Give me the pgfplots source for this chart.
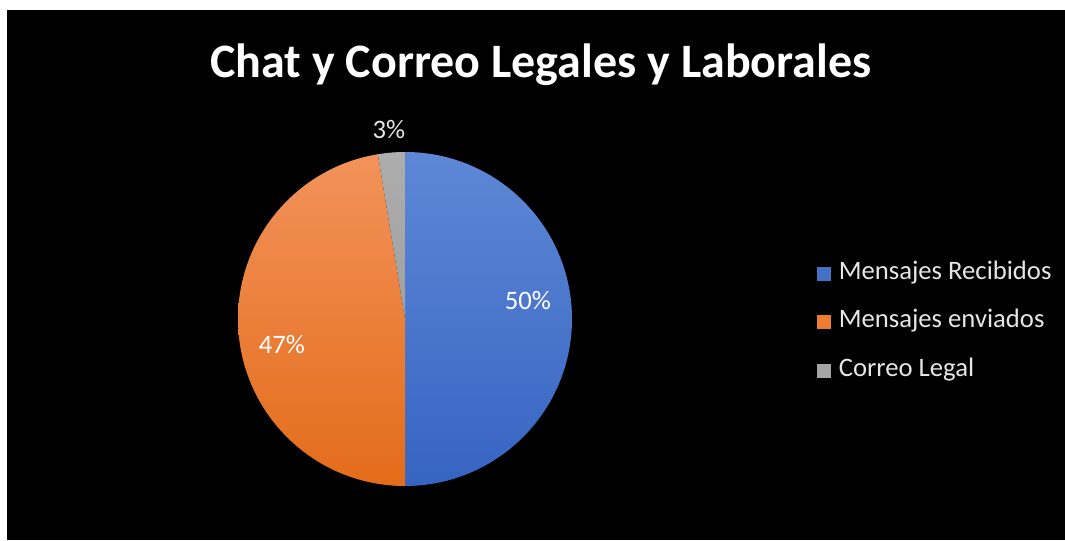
\documentclass[border=0pt]{standalone}
\usepackage{pgfplots}
\pgfplotsset{compat=1.18}
\usepackage{pgfplotstable}
\usepackage{fontspec}
\setmainfont{Carlito}

\definecolor{blueTop}{HTML}{5E88D6}
\definecolor{blueBot}{HTML}{3664C2}
\definecolor{blueMid}{HTML}{4472C4}
\definecolor{orTop}{HTML}{F2925A}
\definecolor{orBot}{HTML}{E46C1A}
\definecolor{orMid}{HTML}{ED7D31}
\definecolor{grTop}{HTML}{ADADAD}
\definecolor{grBot}{HTML}{A0A0A0}
\definecolor{grMid}{HTML}{A5A5A5}
\definecolor{legtext}{HTML}{E6E6E6}

\pgfplotstableread[col sep=comma]{
label,value
Mensajes Recibidos,50
Mensajes enviados,47.4
Correo Legal,2.6
}\piedata

% slice angles, clockwise from 12 o'clock
\pgfplotstablegetelem{0}{value}\of\piedata \let\vA\pgfplotsretval
\pgfplotstablegetelem{1}{value}\of\piedata \let\vB\pgfplotsretval
\pgfplotstablegetelem{2}{value}\of\piedata \let\vC\pgfplotsretval
\pgfmathsetmacro\tot{\vA+\vB+\vC}
\pgfmathsetmacro\aA{90}
\pgfmathsetmacro\aB{\aA-(\vA/\tot)*360}
\pgfmathsetmacro\aC{\aB-(\vB/\tot)*360}
\pgfmathsetmacro\aD{\aC-(\vC/\tot)*360}
\def\R{125.25pt}

\begin{document}
\begin{tikzpicture}
\begin{axis}[
    width=798.75pt, height=405pt, scale only axis,
    xmin=0, xmax=1065, ymin=0, ymax=540,
    hide axis, clip=false,
    legend cell align=left,
    legend style={
        at={(axis cs:817,218)}, anchor=west,
        draw=none, fill=none, inner sep=0pt,
        text=legtext, font=\fontsize{20}{24}\selectfont,
        row sep=17.5pt,
        nodes={inner xsep=6pt, inner ysep=0pt, text height=14pt, text depth=5pt},
    },
]
    \fill[white] (axis cs:0,0) rectangle (axis cs:1065,540);
    \fill[black] (axis cs:7,0) rectangle (axis cs:1065,530);

    \shade[top color=blueTop, bottom color=blueBot]
        (axis cs:405,221) -- ++(\aA:\R) arc[start angle=\aA, end angle=\aB, radius=\R] -- cycle;
    \shade[top color=orTop, bottom color=orBot]
        (axis cs:405,221) -- ++(\aB:\R) arc[start angle=\aB, end angle=\aC, radius=\R] -- cycle;
    \shade[top color=grTop, bottom color=grBot]
        (axis cs:405,221) -- ++(\aC:\R) arc[start angle=\aC, end angle=\aD, radius=\R] -- cycle;

    \node[text=white, font=\fontsize{20}{24}\selectfont] at (axis cs:528,239) {50\%};
    \node[text=white, font=\fontsize{20}{24}\selectfont] at (axis cs:282,195) {47\%};
    \node[text=legtext, font=\fontsize{20}{24}\selectfont] at (axis cs:389,410) {3\%};

    \node[text=white, font=\bfseries\fontsize{36}{43}\selectfont, anchor=base]
        at (axis cs:541,462) {Chat y Correo Legales y Laborales};

    \addlegendimage{legend image code/.code={\fill[blueMid] (0pt,-4.9pt) rectangle (9.75pt,4.9pt);}}
    \addlegendentry{Mensajes Recibidos}
    \addlegendimage{legend image code/.code={\fill[orMid] (0pt,-4.9pt) rectangle (9.75pt,4.9pt);}}
    \addlegendentry{Mensajes enviados}
    \addlegendimage{legend image code/.code={\fill[grMid] (0pt,-4.9pt) rectangle (9.75pt,4.9pt);}}
    \addlegendentry{Correo Legal}
\end{axis}
\end{tikzpicture}
\end{document}
